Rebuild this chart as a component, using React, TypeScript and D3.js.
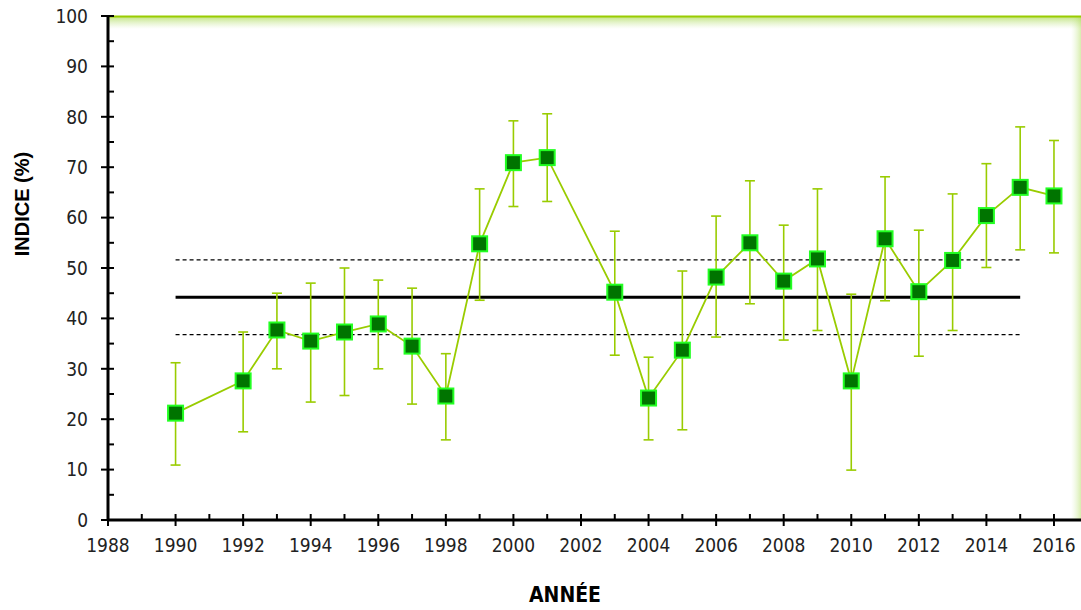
import React from "react";
import * as d3 from "d3";

const years = [1990, 1992, 1993, 1994, 1995, 1996, 1997, 1998, 1999, 2000, 2001, 2003, 2004, 2005, 2006, 2007, 2008, 2009, 2010, 2011, 2012, 2013, 2014, 2015, 2016];
const indexValues = [21.2, 27.6, 37.7, 35.5, 37.3, 38.9, 34.5, 24.6, 54.8, 70.9, 71.9, 45.2, 24.2, 33.7, 48.2, 55.0, 47.4, 51.8, 27.6, 55.8, 45.3, 51.5, 60.4, 66.0, 64.3];
const upperValues = [31.2, 37.3, 45.0, 47.0, 50.0, 47.6, 46.0, 33.0, 65.7, 79.2, 80.6, 57.3, 32.3, 49.4, 60.3, 67.3, 58.5, 65.7, 44.8, 68.1, 57.5, 64.7, 70.7, 78.0, 75.3];
const lowerValues = [10.9, 17.5, 30.0, 23.4, 24.7, 30.0, 23.0, 15.9, 43.6, 62.2, 63.2, 32.7, 15.9, 17.9, 36.3, 42.9, 35.7, 37.6, 9.9, 43.5, 32.5, 37.6, 50.1, 53.6, 53.0];
const meanValue = 44.2;
const meanUpper = 51.6;
const meanLower = 36.8;
const refLineYears = [1990, 2015];
const xTickYears = d3.range(1988, 2017, 2);
const xMinorYears = d3.range(1989, 2017, 2);
const yTicks = d3.range(0, 101, 10);
const yMinor = d3.range(5, 100, 10);

const FONT = "'Liberation Sans Narrow', 'DejaVu Sans Condensed', 'Arial Narrow', sans-serif";
const TITLE_FONT = "'Liberation Sans', Arial, sans-serif";

export default function App() {
  const W = 1081, H = 610;
  const left = 108, right = 1081, top = 16, bottom = 520;
  const x = d3.scaleLinear().domain([1988, 2016.8]).range([left, right]);
  const y = d3.scaleLinear().domain([0, 100]).range([bottom, top]);
  const green = "#99cc00";
  const lineGen = d3.line<number>().x((_, i) => x(years[i])).y((v) => y(v));
  const ms = 15;
  return (
    <svg width={W} height={H} style={{ position: "absolute", left: 0, top: 0, background: "#fff" }}>
      <defs>
        <linearGradient id="topg" x1="0" y1="0" x2="0" y2="1">
          <stop offset="0" stopColor="#a8d84a" stopOpacity="0.75" />
          <stop offset="1" stopColor="#c8e89a" stopOpacity="0" />
        </linearGradient>
        <linearGradient id="rightg" x1="1" y1="0" x2="0" y2="0">
          <stop offset="0" stopColor="#a8d84a" stopOpacity="0.45" />
          <stop offset="1" stopColor="#c8e89a" stopOpacity="0" />
        </linearGradient>
      </defs>
      {/* frame gradients */}
      <rect x={left} y={top} width={W - left} height={13} fill="url(#topg)" />
      <rect x={1071} y={top} width={10} height={bottom - top} fill="url(#rightg)" />
      <line x1={left} x2={W} y1={top + 0.5} y2={top + 0.5} stroke={green} strokeWidth={2} />

      {/* reference lines */}
      <line x1={x(refLineYears[0])} x2={x(refLineYears[1])} y1={y(meanValue)} y2={y(meanValue)} stroke="#000" strokeWidth={3} />
      <line x1={x(refLineYears[0])} x2={x(refLineYears[1])} y1={y(meanUpper)} y2={y(meanUpper)} stroke="#000" strokeWidth={1.3} strokeDasharray="4,3" />
      <line x1={x(refLineYears[0])} x2={x(refLineYears[1])} y1={y(meanLower)} y2={y(meanLower)} stroke="#000" strokeWidth={1.3} strokeDasharray="4,3" />

      {/* error bars */}
      {years.map((yr, i) => (
        <g key={"e" + yr} stroke={green} strokeWidth={1.6}>
          <line x1={x(yr)} x2={x(yr)} y1={y(upperValues[i])} y2={y(lowerValues[i])} />
          <line x1={x(yr) - 5} x2={x(yr) + 5} y1={y(upperValues[i])} y2={y(upperValues[i])} />
          <line x1={x(yr) - 5} x2={x(yr) + 5} y1={y(lowerValues[i])} y2={y(lowerValues[i])} />
        </g>
      ))}

      {/* series line */}
      <path d={lineGen(indexValues) || ""} fill="none" stroke={green} strokeWidth={1.8} />

      {/* markers */}
      {years.map((yr, i) => (
        <rect key={"m" + yr} x={x(yr) - ms / 2} y={y(indexValues[i]) - ms / 2} width={ms} height={ms} fill="#007400" stroke="#22ff22" strokeWidth={2} />
      ))}

      {/* axes */}
      <line x1={left} x2={left} y1={top - 1} y2={bottom + 1} stroke="#000" strokeWidth={3} />
      <line x1={left - 1} x2={W} y1={bottom} y2={bottom} stroke="#000" strokeWidth={3} />
      {yTicks.map((t) => (
        <g key={"yt" + t}>
          <line x1={left - 7} x2={left + 6} y1={y(t)} y2={y(t)} stroke="#000" strokeWidth={2} />
          <text x={left - 20} y={y(t)} dy="0.36em" textAnchor="end" fontFamily={FONT} fontSize={19} fill="#222">{t}</text>
        </g>
      ))}
      {yMinor.map((t) => (
        <line key={"ym" + t} x1={left} x2={left + 6} y1={y(t)} y2={y(t)} stroke="#000" strokeWidth={2} />
      ))}
      {xTickYears.map((t) => (
        <g key={"xt" + t}>
          <line x1={x(t)} x2={x(t)} y1={bottom - 6} y2={bottom + 6} stroke="#000" strokeWidth={2} />
          <text x={x(t)} y={bottom + 32} textAnchor="middle" fontFamily={FONT} fontSize={19} fill="#222">{t}</text>
        </g>
      ))}
      {xMinorYears.map((t) => (
        <line key={"xm" + t} x1={x(t)} x2={x(t)} y1={bottom - 6} y2={bottom} stroke="#000" strokeWidth={2} />
      ))}

      {/* titles */}
      <text transform="translate(29,204) rotate(-90)" textAnchor="middle" fontFamily={TITLE_FONT} fontWeight="bold" fontSize={20} fill="#000">INDICE (%)</text>
      <text x={565} y={602} textAnchor="middle" fontFamily={FONT} fontWeight="bold" fontSize={21} fill="#000">ANNÉE</text>
    </svg>
  );
}
